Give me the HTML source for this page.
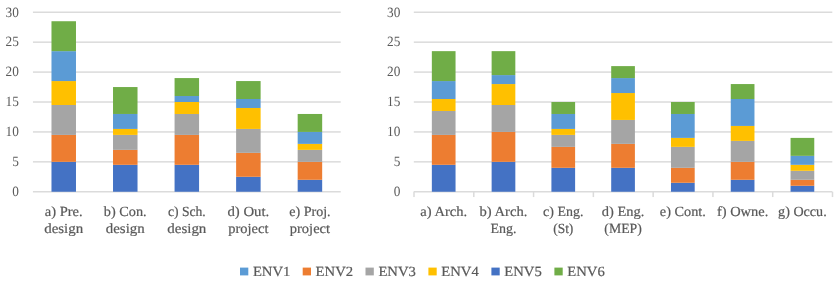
<!DOCTYPE html>
<html><head><meta charset="utf-8"><title>Chart</title>
<style>
text{text-rendering:geometricPrecision;}
html,body{margin:0;padding:0;background:#fff;}
body{width:836px;height:283px;position:relative;overflow:hidden;font-family:"Liberation Serif",serif;}
.t{font-family:"Liberation Serif",serif;font-size:14px;fill:#595959;stroke:#595959;stroke-width:0.2px;}
.l{font-family:"Liberation Serif",serif;font-size:14px;fill:#595959;stroke:#595959;stroke-width:0.2px;}
.d{font-family:"Liberation Serif",serif;font-size:14.2px;fill:#595959;}
</style></head><body>
<svg width="836" height="283" viewBox="0 0 836 283" style="position:absolute;left:0;top:0;will-change:transform">
<rect width="836" height="283" fill="#fff"/>
<rect x="32.95" y="191.00" width="307.75" height="1.5" fill="#DBDBDB"/>
<text x="12.25" y="196.05" textLength="6.65" lengthAdjust="spacingAndGlyphs" class="d">0</text>
<rect x="32.95" y="161.09" width="307.75" height="1.5" fill="#DBDBDB"/>
<text x="12.25" y="166.14" textLength="6.65" lengthAdjust="spacingAndGlyphs" class="d">5</text>
<rect x="32.95" y="131.17" width="307.75" height="1.5" fill="#DBDBDB"/>
<text x="5.60" y="136.22" textLength="13.30" lengthAdjust="spacingAndGlyphs" class="d">10</text>
<rect x="32.95" y="101.26" width="307.75" height="1.5" fill="#DBDBDB"/>
<text x="5.60" y="106.31" textLength="13.30" lengthAdjust="spacingAndGlyphs" class="d">15</text>
<rect x="32.95" y="71.34" width="307.75" height="1.5" fill="#DBDBDB"/>
<text x="5.60" y="76.39" textLength="13.30" lengthAdjust="spacingAndGlyphs" class="d">20</text>
<rect x="32.95" y="41.43" width="307.75" height="1.5" fill="#DBDBDB"/>
<text x="5.60" y="46.48" textLength="13.30" lengthAdjust="spacingAndGlyphs" class="d">25</text>
<rect x="32.95" y="11.51" width="307.75" height="1.5" fill="#DBDBDB"/>
<text x="5.60" y="16.56" textLength="13.30" lengthAdjust="spacingAndGlyphs" class="d">30</text>
<rect x="51.48" y="161.84" width="24.50" height="29.91" fill="#4472C4"/>
<rect x="51.48" y="134.91" width="24.50" height="26.92" fill="#ED7D31"/>
<rect x="51.48" y="105.00" width="24.50" height="29.91" fill="#A5A5A5"/>
<rect x="51.48" y="81.06" width="24.50" height="23.93" fill="#FFC000"/>
<rect x="51.48" y="51.15" width="24.50" height="29.91" fill="#5B9BD5"/>
<rect x="51.48" y="21.23" width="24.50" height="29.91" fill="#70AD47"/>
<text x="44.78" y="215.50" textLength="37.9" lengthAdjust="spacingAndGlyphs" class="t">a) Pre.</text>
<text x="44.23" y="233.45" textLength="39.0" lengthAdjust="spacingAndGlyphs" class="t">design</text>
<rect x="113.02" y="164.83" width="24.50" height="26.92" fill="#4472C4"/>
<rect x="113.02" y="149.87" width="24.50" height="14.96" fill="#ED7D31"/>
<rect x="113.02" y="134.91" width="24.50" height="14.96" fill="#A5A5A5"/>
<rect x="113.02" y="128.93" width="24.50" height="5.98" fill="#FFC000"/>
<rect x="113.02" y="113.97" width="24.50" height="14.96" fill="#5B9BD5"/>
<rect x="113.02" y="87.05" width="24.50" height="26.92" fill="#70AD47"/>
<text x="103.87" y="215.50" textLength="42.8" lengthAdjust="spacingAndGlyphs" class="t">b) Con.</text>
<text x="105.82" y="233.45" textLength="38.9" lengthAdjust="spacingAndGlyphs" class="t">design</text>
<rect x="174.57" y="164.83" width="24.50" height="26.92" fill="#4472C4"/>
<rect x="174.57" y="134.91" width="24.50" height="29.91" fill="#ED7D31"/>
<rect x="174.57" y="113.97" width="24.50" height="20.94" fill="#A5A5A5"/>
<rect x="174.57" y="102.01" width="24.50" height="11.97" fill="#FFC000"/>
<rect x="174.57" y="96.02" width="24.50" height="5.98" fill="#5B9BD5"/>
<rect x="174.57" y="78.07" width="24.50" height="17.95" fill="#70AD47"/>
<text x="167.88" y="215.50" textLength="37.9" lengthAdjust="spacingAndGlyphs" class="t">c) Sch.</text>
<text x="167.27" y="233.45" textLength="39.1" lengthAdjust="spacingAndGlyphs" class="t">design</text>
<rect x="236.12" y="176.79" width="24.50" height="14.96" fill="#4472C4"/>
<rect x="236.12" y="152.86" width="24.50" height="23.93" fill="#ED7D31"/>
<rect x="236.12" y="128.93" width="24.50" height="23.93" fill="#A5A5A5"/>
<rect x="236.12" y="107.99" width="24.50" height="20.94" fill="#FFC000"/>
<rect x="236.12" y="99.01" width="24.50" height="8.97" fill="#5B9BD5"/>
<rect x="236.12" y="81.06" width="24.50" height="17.95" fill="#70AD47"/>
<text x="227.43" y="215.50" textLength="41.9" lengthAdjust="spacingAndGlyphs" class="t">d) Out.</text>
<text x="228.32" y="233.45" textLength="40.1" lengthAdjust="spacingAndGlyphs" class="t">project</text>
<rect x="297.67" y="179.78" width="24.50" height="11.97" fill="#4472C4"/>
<rect x="297.67" y="161.84" width="24.50" height="17.95" fill="#ED7D31"/>
<rect x="297.67" y="149.87" width="24.50" height="11.97" fill="#A5A5A5"/>
<rect x="297.67" y="143.89" width="24.50" height="5.98" fill="#FFC000"/>
<rect x="297.67" y="131.92" width="24.50" height="11.97" fill="#5B9BD5"/>
<rect x="297.67" y="113.97" width="24.50" height="17.95" fill="#70AD47"/>
<text x="289.22" y="215.50" textLength="41.4" lengthAdjust="spacingAndGlyphs" class="t">e) Proj.</text>
<text x="289.82" y="233.45" textLength="40.2" lengthAdjust="spacingAndGlyphs" class="t">project</text>
<rect x="413.8" y="191.00" width="418.49999999999994" height="1.5" fill="#DBDBDB"/>
<text x="393.75" y="196.05" textLength="6.65" lengthAdjust="spacingAndGlyphs" class="d">0</text>
<rect x="413.8" y="161.09" width="418.49999999999994" height="1.5" fill="#DBDBDB"/>
<text x="393.75" y="166.14" textLength="6.65" lengthAdjust="spacingAndGlyphs" class="d">5</text>
<rect x="413.8" y="131.17" width="418.49999999999994" height="1.5" fill="#DBDBDB"/>
<text x="387.10" y="136.22" textLength="13.30" lengthAdjust="spacingAndGlyphs" class="d">10</text>
<rect x="413.8" y="101.26" width="418.49999999999994" height="1.5" fill="#DBDBDB"/>
<text x="387.10" y="106.31" textLength="13.30" lengthAdjust="spacingAndGlyphs" class="d">15</text>
<rect x="413.8" y="71.34" width="418.49999999999994" height="1.5" fill="#DBDBDB"/>
<text x="387.10" y="76.39" textLength="13.30" lengthAdjust="spacingAndGlyphs" class="d">20</text>
<rect x="413.8" y="41.43" width="418.49999999999994" height="1.5" fill="#DBDBDB"/>
<text x="387.10" y="46.48" textLength="13.30" lengthAdjust="spacingAndGlyphs" class="d">25</text>
<rect x="413.8" y="11.51" width="418.49999999999994" height="1.5" fill="#DBDBDB"/>
<text x="387.10" y="16.56" textLength="13.30" lengthAdjust="spacingAndGlyphs" class="d">30</text>
<rect x="413.25" y="191.75" width="1.5" height="5.3" fill="#DBDBDB"/>
<rect x="473.04" y="191.75" width="1.5" height="5.3" fill="#DBDBDB"/>
<rect x="532.82" y="191.75" width="1.5" height="5.3" fill="#DBDBDB"/>
<rect x="592.61" y="191.75" width="1.5" height="5.3" fill="#DBDBDB"/>
<rect x="652.39" y="191.75" width="1.5" height="5.3" fill="#DBDBDB"/>
<rect x="712.18" y="191.75" width="1.5" height="5.3" fill="#DBDBDB"/>
<rect x="771.96" y="191.75" width="1.5" height="5.3" fill="#DBDBDB"/>
<rect x="831.75" y="191.75" width="1.5" height="5.3" fill="#DBDBDB"/>
<rect x="431.84" y="164.83" width="23.70" height="26.92" fill="#4472C4"/>
<rect x="431.84" y="134.91" width="23.70" height="29.91" fill="#ED7D31"/>
<rect x="431.84" y="110.98" width="23.70" height="23.93" fill="#A5A5A5"/>
<rect x="431.84" y="99.01" width="23.70" height="11.97" fill="#FFC000"/>
<rect x="431.84" y="81.06" width="23.70" height="17.95" fill="#5B9BD5"/>
<rect x="431.84" y="51.15" width="23.70" height="29.91" fill="#70AD47"/>
<text x="420.29" y="215.50" textLength="46.8" lengthAdjust="spacingAndGlyphs" class="t">a) Arch.</text>
<rect x="491.63" y="161.84" width="23.70" height="29.91" fill="#4472C4"/>
<rect x="491.63" y="131.92" width="23.70" height="29.91" fill="#ED7D31"/>
<rect x="491.63" y="105.00" width="23.70" height="26.92" fill="#A5A5A5"/>
<rect x="491.63" y="84.06" width="23.70" height="20.94" fill="#FFC000"/>
<rect x="491.63" y="75.08" width="23.70" height="8.97" fill="#5B9BD5"/>
<rect x="491.63" y="51.15" width="23.70" height="23.93" fill="#70AD47"/>
<text x="479.58" y="215.50" textLength="47.8" lengthAdjust="spacingAndGlyphs" class="t">b) Arch.</text>
<text x="490.48" y="233.45" textLength="26.0" lengthAdjust="spacingAndGlyphs" class="t">Eng.</text>
<rect x="551.41" y="167.82" width="23.70" height="23.93" fill="#4472C4"/>
<rect x="551.41" y="146.88" width="23.70" height="20.94" fill="#ED7D31"/>
<rect x="551.41" y="134.91" width="23.70" height="11.97" fill="#A5A5A5"/>
<rect x="551.41" y="128.93" width="23.70" height="5.98" fill="#FFC000"/>
<rect x="551.41" y="113.97" width="23.70" height="14.96" fill="#5B9BD5"/>
<rect x="551.41" y="102.01" width="23.70" height="11.97" fill="#70AD47"/>
<text x="543.11" y="215.50" textLength="40.3" lengthAdjust="spacingAndGlyphs" class="t">c) Eng.</text>
<text x="553.16" y="233.45" textLength="20.2" lengthAdjust="spacingAndGlyphs" class="t">(St)</text>
<rect x="611.20" y="167.82" width="23.70" height="23.93" fill="#4472C4"/>
<rect x="611.20" y="143.89" width="23.70" height="23.93" fill="#ED7D31"/>
<rect x="611.20" y="119.95" width="23.70" height="23.93" fill="#A5A5A5"/>
<rect x="611.20" y="93.03" width="23.70" height="26.92" fill="#FFC000"/>
<rect x="611.20" y="78.07" width="23.70" height="14.96" fill="#5B9BD5"/>
<rect x="611.20" y="66.11" width="23.70" height="11.97" fill="#70AD47"/>
<text x="601.75" y="215.50" textLength="42.6" lengthAdjust="spacingAndGlyphs" class="t">d) Eng.</text>
<text x="604.35" y="233.45" textLength="37.4" lengthAdjust="spacingAndGlyphs" class="t">(MEP)</text>
<rect x="670.99" y="182.78" width="23.70" height="8.97" fill="#4472C4"/>
<rect x="670.99" y="167.82" width="23.70" height="14.96" fill="#ED7D31"/>
<rect x="670.99" y="146.88" width="23.70" height="20.94" fill="#A5A5A5"/>
<rect x="670.99" y="137.90" width="23.70" height="8.97" fill="#FFC000"/>
<rect x="670.99" y="113.97" width="23.70" height="23.93" fill="#5B9BD5"/>
<rect x="670.99" y="102.01" width="23.70" height="11.97" fill="#70AD47"/>
<text x="659.84" y="215.50" textLength="46.0" lengthAdjust="spacingAndGlyphs" class="t">e) Cont.</text>
<rect x="730.77" y="179.78" width="23.70" height="11.97" fill="#4472C4"/>
<rect x="730.77" y="161.84" width="23.70" height="17.95" fill="#ED7D31"/>
<rect x="730.77" y="140.89" width="23.70" height="20.94" fill="#A5A5A5"/>
<rect x="730.77" y="125.94" width="23.70" height="14.96" fill="#FFC000"/>
<rect x="730.77" y="99.01" width="23.70" height="26.92" fill="#5B9BD5"/>
<rect x="730.77" y="84.06" width="23.70" height="14.96" fill="#70AD47"/>
<text x="716.97" y="215.50" textLength="51.3" lengthAdjust="spacingAndGlyphs" class="t">f) Owne.</text>
<rect x="790.56" y="185.77" width="23.70" height="5.98" fill="#4472C4"/>
<rect x="790.56" y="179.78" width="23.70" height="5.98" fill="#ED7D31"/>
<rect x="790.56" y="170.81" width="23.70" height="8.97" fill="#A5A5A5"/>
<rect x="790.56" y="164.83" width="23.70" height="5.98" fill="#FFC000"/>
<rect x="790.56" y="155.85" width="23.70" height="8.97" fill="#5B9BD5"/>
<rect x="790.56" y="137.90" width="23.70" height="17.95" fill="#70AD47"/>
<text x="778.11" y="215.50" textLength="48.6" lengthAdjust="spacingAndGlyphs" class="t">g) Occu.</text>
<rect x="240.00" y="267.6" width="8.3" height="7.8" fill="#5B9BD5"/>
<text x="252.90" y="275.5" textLength="37.5" lengthAdjust="spacingAndGlyphs" class="l">ENV1</text>
<rect x="302.70" y="267.6" width="8.3" height="7.8" fill="#ED7D31"/>
<text x="315.60" y="275.5" textLength="37.5" lengthAdjust="spacingAndGlyphs" class="l">ENV2</text>
<rect x="365.50" y="267.6" width="8.3" height="7.8" fill="#A5A5A5"/>
<text x="378.40" y="275.5" textLength="37.5" lengthAdjust="spacingAndGlyphs" class="l">ENV3</text>
<rect x="428.40" y="267.6" width="8.3" height="7.8" fill="#FFC000"/>
<text x="441.30" y="275.5" textLength="37.5" lengthAdjust="spacingAndGlyphs" class="l">ENV4</text>
<rect x="491.40" y="267.6" width="8.3" height="7.8" fill="#4472C4"/>
<text x="504.30" y="275.5" textLength="37.5" lengthAdjust="spacingAndGlyphs" class="l">ENV5</text>
<rect x="554.40" y="267.6" width="8.3" height="7.8" fill="#70AD47"/>
<text x="567.30" y="275.5" textLength="37.5" lengthAdjust="spacingAndGlyphs" class="l">ENV6</text>
</svg>
</body></html>
